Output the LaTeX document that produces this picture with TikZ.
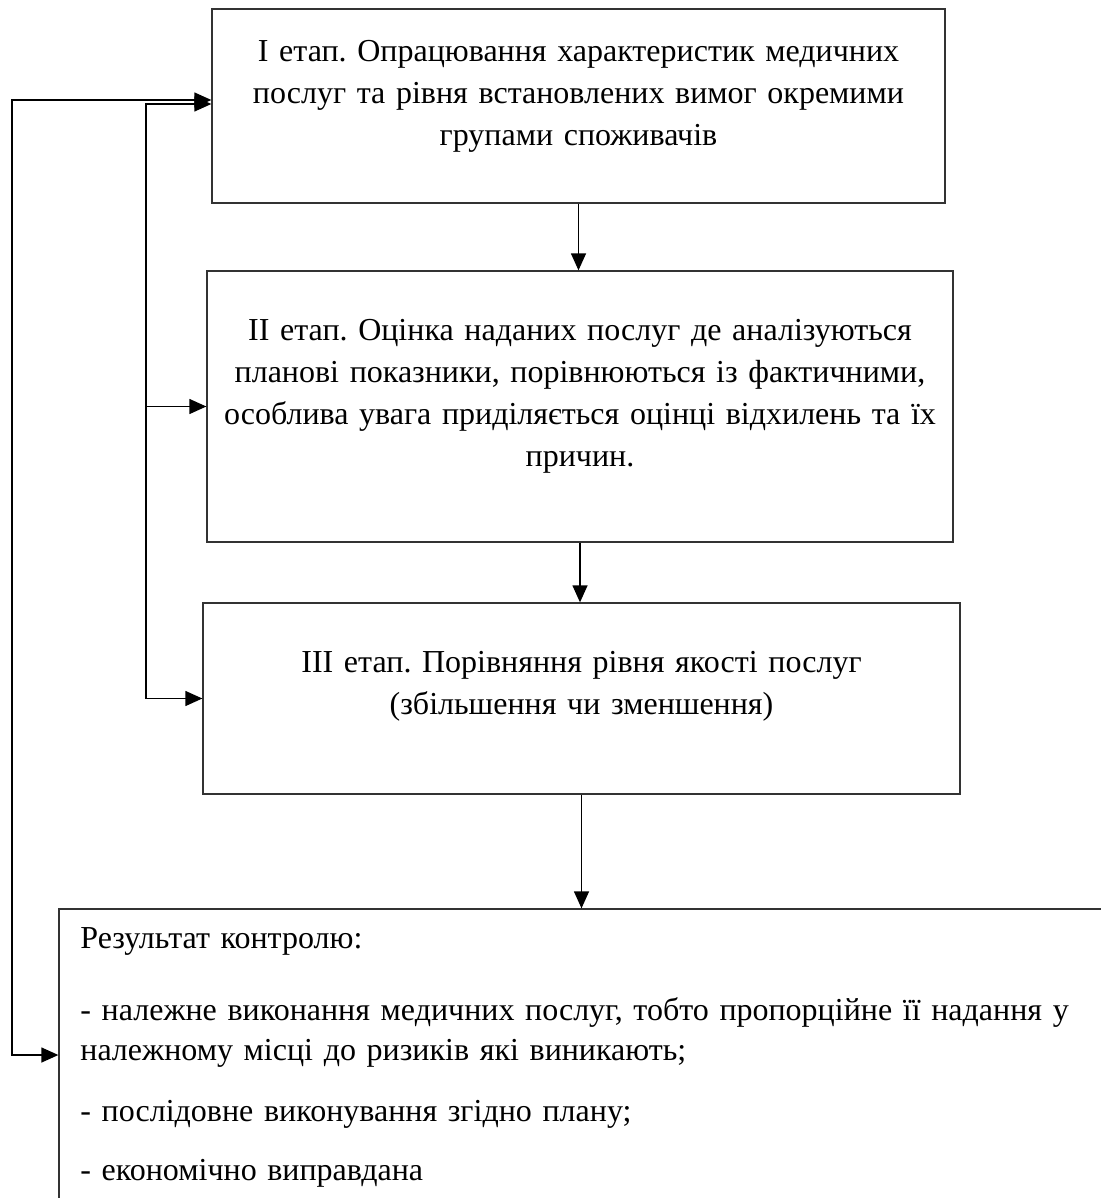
\documentclass[tikz,border=0pt]{standalone}
\usepackage{fontspec}
\setmainfont{Liberation Serif}
\usepackage{tikz}
\usetikzlibrary{arrows.meta}
\frenchspacing

\begin{document}
\begin{tikzpicture}[x=0.5pt, y=-0.5pt,
    stagebox/.style={draw=black!80, line width=0.65pt, inner sep=0pt},
    stagetext/.style={align=center, anchor=base, inner sep=0pt, text width=370pt, font=\fontsize{16}{21}\selectfont},
    arr/.style={line width=0.65pt, -{Triangle[length=8.5pt, width=7.5pt]}},
    arrboth/.style={line width=0.65pt, {Triangle[length=8.5pt, width=7.5pt]}-{Triangle[length=8.5pt, width=7.5pt]}}]
    \useasboundingbox (0,0) rectangle (1101,1198);
    \clip (0,0) rectangle (1101,1198);
    % boxes
    \node[stagebox, minimum width=366.5pt, minimum height=97pt] (stageI) at (578.5,106) {};
    \node[stagebox, minimum width=373pt, minimum height=135.5pt] (stageII) at (580,406.5) {};
    \node[stagebox, minimum width=378.5pt, minimum height=95.5pt] (stageIII) at (581.5,698.5) {};
    \node[stagebox, minimum width=545.5pt, minimum height=170.5pt] (result) at (604.5,1079.5) {};
    \node[stagetext] (stageItext) at (578.5,62) {I етап. Опрацювання характеристик медичних\\ послуг та рівня встановлених вимог окремими\\ групами споживачів};
    \node[stagetext] (stageIItext) at (580,340) {II етап. Оцінка наданих послуг де аналізуються\\ планові показники, порівнюються із фактичними,\\ особлива увага приділяється оцінці відхилень та їх\\ причин.};
    \node[stagetext] (stageIIItext) at (581.5,672) {III етап. Порівняння рівня якості послуг\\ (збільшення чи зменшення)};
    \node[anchor=base west, inner sep=0pt, text width=501pt, align=left, font=\fontsize{16}{20}\selectfont] (resulttext) at (80,948)
        {Результат контролю:\\[16pt]
         \makebox[501pt][s]{- належне виконання медичних послуг, тобто пропорційне її надання у}\\
         належному місці до ризиків які виникають;\\[10.5pt]
         - послідовне виконування згідно плану;\\[9.5pt]
         - економічно виправдана};
    % arrows
    \draw[arr] (stageI.south) -- (stageI.south |- stageII.north);
    \draw[arr] (stageII.south) -- (stageII.south |- stageIII.north);
    \draw[arr] (stageIII.south) -- (stageIII.south |- result.north);
    \coordinate (bus) at (146,0);
    \coordinate (loop) at (12,1055);
    \draw[arr] (bus |- stageIII.west) |- ([yshift=1pt]stageI.west);
    \draw[arr] (bus |- stageII.west) -- (stageII.west);
    \draw[arr] (bus |- stageIII.west) -- (stageIII.west);
    \draw[arrboth] ([yshift=3pt]stageI.west) -| (loop) -- (loop -| result.west);
\end{tikzpicture}
\end{document}
